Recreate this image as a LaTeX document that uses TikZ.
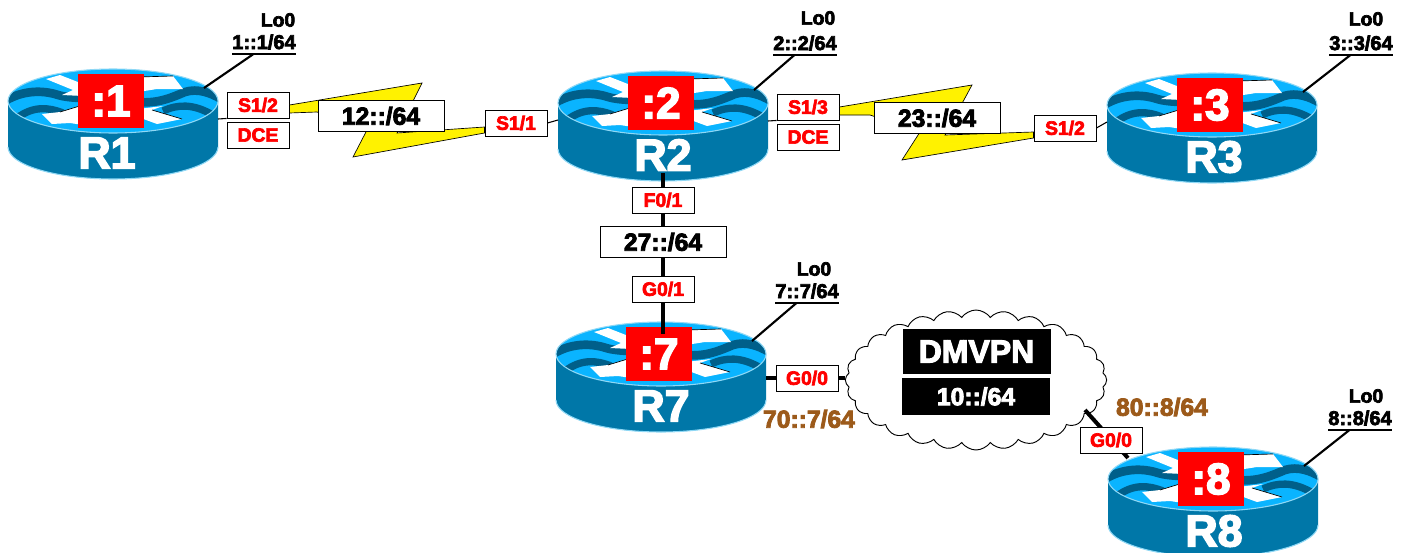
\documentclass[tikz,border=0pt]{standalone}
\usepackage{fontspec}
\usepackage{tikz}
\setmainfont{Liberation Sans}[BoldFeatures={FakeBold=3.5}]
\usetikzlibrary{calc,shapes.symbols}
\definecolor{rbody}{HTML}{0077A8}
\definecolor{rtop}{HTML}{0AB4FF}
\definecolor{rwave}{HTML}{005F8A}
\definecolor{rrim}{HTML}{8FD8F5}
\definecolor{addrbrown}{HTML}{9C5A1A}
\newcommand{\fsz}[1]{\fontsize{#1}{#1}\selectfont\bfseries}
\tikzset{
	iface/.style={draw=black, fill=white, line width=0.7pt, text=red, minimum width=46.5pt, minimum height=19.5pt, inner sep=0pt, font=\fsz{14.5}},
	subnet/.style={draw=black, fill=white, line width=0.7pt, minimum width=94.5pt, minimum height=23pt, inner sep=0pt, font=\fsz{18.5}},
	darkbox/.style={fill=black, text=white, minimum width=111pt, inner sep=0pt},
	loname/.style={inner sep=0pt, font=\fsz{14.5}},
	loaddr/.style={inner sep=0pt, minimum width=46pt, minimum height=18pt, font=\fsz{15}},
	brown/.style={text=addrbrown, inner sep=0pt, font=\fsz{18.5}},
	thin link/.style={line width=0.8pt},
	lo link/.style={line width=1.6pt},
	thick link/.style={line width=3pt},
	bolt/.style={draw=black, fill=yellow, line width=0.5pt},
	pics/router/.style n args={3}{code={
		\coordinate (-east) at (105,18);
		\coordinate (-west) at (-105,17);
		\coordinate (-lo) at (91,-13);
		\coordinate (-south) at (0,70);
		\coordinate (-north) at (0,-20);
		\coordinate (-nw) at (-85,-21);
		\fill[rbody] (-105,0) -- (-105,46) arc[start angle=180, end angle=360, x radius=105, y radius=-32] -- (105,0) -- cycle;
		\draw[rrim, line width=0.8pt] (-105,46) arc[start angle=180, end angle=360, x radius=105, y radius=-32];
		\begin{scope}
			\clip (0,0) ellipse [x radius=105, y radius=32];
			\fill[rtop] (-110,-40) rectangle (110,40);
			\draw[rwave, line width=6.5pt] (-108,0) .. controls (-90,-11) and (-70,-11) .. (-55,-6) .. controls (-48,-4) and (-40,-3) .. (-25,-3);
			\draw[rwave, line width=5.5pt] (-96,17) .. controls (-80,5) and (-65,6) .. (-50,12);
			\draw[rwave, line width=6.5pt] (25,1) .. controls (45,3) and (60,-4) .. (72,-9) .. controls (85,-13) and (98,-8) .. (108,-2);
			\draw[rwave, line width=5.5pt] (50,10) .. controls (65,3) and (80,3) .. (98,13);
			\fill[rwave] (50,-35) .. controls (60,-26) and (75,-23) .. (90,-20) -- (90,-35) -- cycle;
			\fill[white] (-67,-22) -- (-53,-26) -- (-30,-17) -- (-30,-5) -- (-51,-6) -- (-40,-11) -- cycle;
			\fill[white] (25,-24) -- (60,-25) -- (70,-12) -- (44,-12) -- (25,-9) -- cycle;
			\fill[white] (-71,13) -- (-53,11) -- (-30,4) -- (-30,24) -- (-43,22) -- (-61,23) -- cycle;
			\fill[white] (25,8) -- (50,5) -- (39,9) -- (69,18) -- (44,23) -- (25,16) -- cycle;
			\draw[line width=0.5pt] (25,-24) -- (60,-25);
			\draw[line width=0.5pt] (-53,11) -- (-30,4);
			\draw[line width=0.5pt] (39,9) -- (69,18);
		\end{scope}
		\draw[rrim, line width=0.8pt] (0,0) ellipse [x radius=105, y radius=32];
		\node[fill=red, text=white, minimum width=49.5pt, minimum height=41pt, inner sep=0pt, font=\fsz{33}] (-box) at (-2,0) {#2};
		\node[text=white, inner sep=0pt, font=\fsz{33.5}] (-name) at (#3,52) {#1};
	}}
}

\begin{document}
\begin{tikzpicture}[x=0.75pt, y=-0.75pt]
	\useasboundingbox (0,0) rectangle (1404,553);

	% routers
	\pic (r1) at (113,101) {router={R1}{:1}{-6}};
	\pic (r2) at (663,103) {router={R2}{:2}{0}};
	\pic (r3) at (1212,105) {router={R3}{:3}{2}};
	\pic (r7) at (661,354) {router={R7}{:7}{0}};
	\pic (r8) at (1213,479) {router={R8}{:8}{1}};

	% serial links
	\node[iface] (s12) at (258,105) {S1/2};
	\node[iface] (d12) at (258,135) {DCE};
	\node[iface] (s21) at (516,123) {S1/1};
	\node[iface] (s23) at (808,107) {S1/3};
	\node[iface] (d23) at (808,137) {DCE};
	\node[iface] (s32) at (1065,128) {S1/2};

	\draw[bolt] (s12.east) -- (422,83) -- (397,133) -- ($(s21.west)+(0,4)$) -- ($(s21.west)+(0,10)$) -- (353,157) -- (367,130) -- (317,112) -- ($(s12.east)+(0,8)$) -- cycle;
	\draw[bolt] (s23.east) -- (972,85) -- (945,135) -- ($(s32.west)+(0,4)$) -- ($(s32.west)+(0,10)$) -- (902,160) -- (920,132) -- (870,115) -- ($(s23.east)+(0,8)$) -- cycle;
	\node[subnet] (n12) at (381,116) {12::/64};
	\node[subnet] (n23) at (937,118) {23::/64};
	\draw[thin link] (r1-east) -- (s12.south west);
	\draw[thin link] (s21.east) -- (r2-west);
	\draw[thin link] (r2-east) -- (s23.south west);
	\draw[thin link] (s32.east) -- (r3-west);

	% ethernet links
	\draw[thick link] (r2-south) -- (r2-south |- r7-north);
	\node[iface] (f01) at (663,200) {F0/1};
	\node[subnet] (n27) at (663,242) {27::/64};
	\node[iface] (g01) at (663,289) {G0/1};

	% dmvpn
	\node[cloud, draw=black, fill=white, line width=0.7pt, cloud puffs=28, cloud puff arc=110, aspect=2, minimum width=196pt, minimum height=105pt, inner sep=0pt] (dmvpn) at (976,380) {};
	\coordinate (c7) at (845,378);
	\coordinate (c8) at (1085,410);
	\draw[thick link] (r7-east) ++(0,6) -- (c7);
	\draw[thick link] (c8) -- (r8-nw);
	\node[iface] (g70) at (807,378) {G0/0};
	\node[iface] (g80) at (1111,440) {G0/0};
	\node[darkbox, minimum height=34pt, font=\fsz{24}] (vpn) at (976.5,351.5) {DMVPN};
	\node[darkbox, minimum height=28pt, font=\fsz{18.5}] (n10) at (976,396.5) {10::/64};
	\node[brown] (a70) at (809,419) {70::7/64};
	\node[brown] (a80) at (1162,407) {80::8/64};

	% loopbacks
	\node[loname] (l1) at (278,20) {Lo0};
	\node[loaddr] (a1) at (264,42) {1::1/64};
	\node[loname] (l2) at (818,18) {Lo0};
	\node[loaddr] (a2) at (805,43) {2::2/64};
	\node[loname] (l3) at (1366,19) {Lo0};
	\node[loaddr] (a3) at (1361,43) {3::3/64};
	\node[loname] (l7) at (814,269) {Lo0};
	\node[loaddr] (a7) at (807,291) {7::7/64};
	\node[loname] (l8) at (1366,396) {Lo0};
	\node[loaddr] (a8) at (1360,418) {8::8/64};
	\foreach \n in {1,2,3,7,8} {
		\draw[lo link] (a\n.south west) -- (a\n.south east);
		\draw[lo link] (r\n-lo) -- ($(a\n.south west)!0.33!(a\n.south east)$);
	}
\end{tikzpicture}
\end{document}
